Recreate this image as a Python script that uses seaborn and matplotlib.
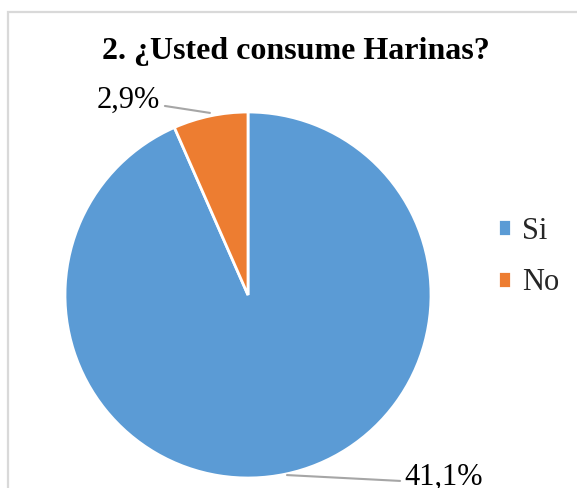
import matplotlib
matplotlib.use("Agg")
import matplotlib.pyplot as plt
import seaborn as sns
from matplotlib.patches import Rectangle

categories = ["Si", "No"]
values = [41.1, 2.9]
value_labels = ["41,1%", "2,9%"]
title = "2. ¿Usted consume Harinas?"

sns.set_theme(style="white")
plt.rcParams['font.family'] = ['Liberation Serif', 'DejaVu Serif']

colors = ["#5B9BD5", "#ED7D31"]

W, H = 577, 488
fig = plt.figure(figsize=(W / 100, H / 100), dpi=100)
fig.patch.set_facecolor("white")

# outer frame (extends beyond right/bottom)
fig.patches.append(Rectangle((8 / W, -0.05), 1.2, 1 - 12 / H + 0.05,
                             transform=fig.transFigure, fill=False,
                             edgecolor="#D9D9D9", linewidth=1.6))

cx, cy, r = 248, 295, 183
ax = fig.add_axes([(cx - r) / W, 1 - (cy + r) / H, 2 * r / W, 2 * r / H])
wedges, _ = ax.pie(values, colors=colors, startangle=90, counterclock=False,
                   wedgeprops=dict(edgecolor="white", linewidth=2))
ax.set_xlim(-1, 1)
ax.set_ylim(-1, 1)
ax.set_aspect("equal")
ax.axis("off")

# data labels with leader lines
label_pos = {"Si": ((1.071, -0.995), [(0.213, -0.984), (0.831, -1.016)]),
             "No": ((-0.653, 1.066), [(-0.454, 1.033), (-0.208, 0.995)])}
for cat, lab in zip(categories, value_labels):
    (tx, ty), line = label_pos[cat]
    ax.plot([p[0] for p in line], [p[1] for p in line], color="#A6A6A6",
            linewidth=1.5, clip_on=False)
    ax.text(tx, ty, lab, ha="center", va="center", fontsize=22,
            color="#000000", clip_on=False)

fig.text(295.5 / W, 1 - 52 / H, title, ha="center", va="center",
         fontsize=23, fontweight="bold", color="#000000")

leg = fig.legend(wedges, categories, loc="center left",
                 bbox_to_anchor=(470 / W, 1 - 257 / H), frameon=False,
                 fontsize=22, handlelength=0.45, handleheight=0.45,
                 handletextpad=0.35, labelspacing=0.75)

fig.savefig("out.png", dpi=100)
